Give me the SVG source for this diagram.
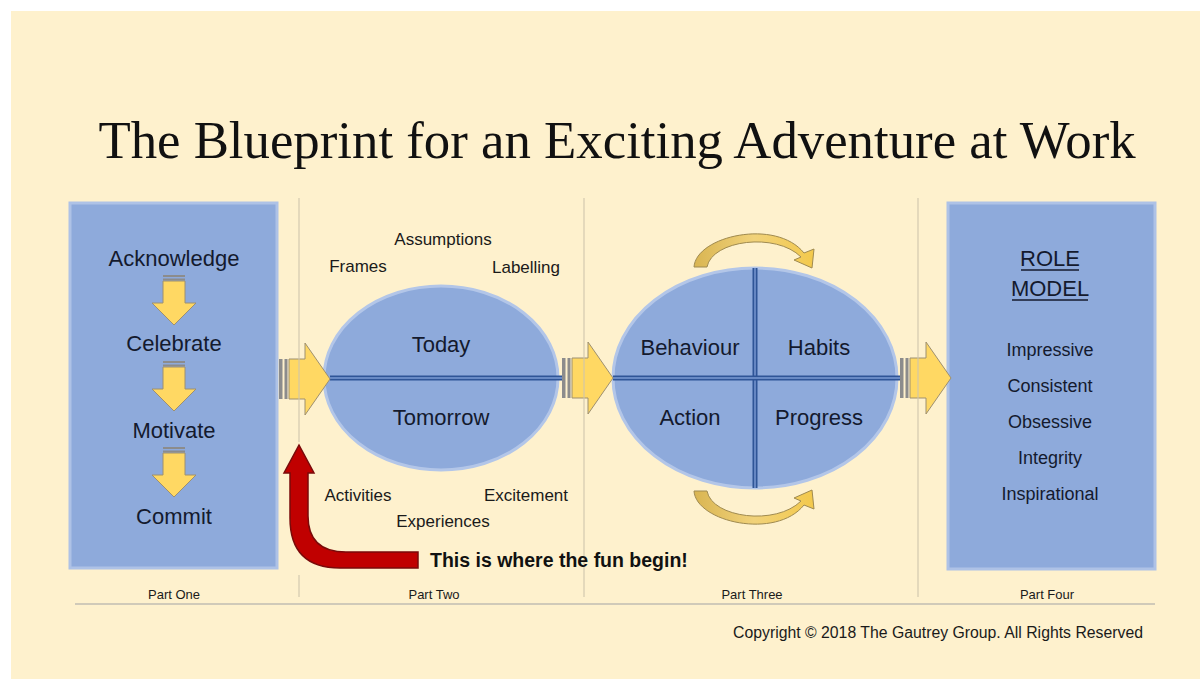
<svg xmlns="http://www.w3.org/2000/svg" width="1200" height="679" viewBox="0 0 1200 679">
  <defs>
    <style>
      .title { font-family: "Liberation Serif", "Times New Roman", serif; font-size: 52.8px; fill: #111; }
      .big { font-family: "Liberation Sans", Arial, sans-serif; font-size: 22px; fill: #141a2e; text-anchor: middle; }
      .mid { font-family: "Liberation Sans", Arial, sans-serif; font-size: 18px; fill: #141a2e; text-anchor: middle; }
      .cue { font-family: "Liberation Sans", Arial, sans-serif; font-size: 17px; fill: #1a1a1a; text-anchor: middle; }
      .part { font-family: "Liberation Sans", Arial, sans-serif; font-size: 13px; fill: #1a1a1a; text-anchor: middle; }
      .note { font-family: "Liberation Sans", Arial, sans-serif; font-size: 19.5px; font-weight: bold; fill: #111; }
      .copy { font-family: "Liberation Sans", Arial, sans-serif; font-size: 15.8px; fill: #1a1a1a; }
      .panel { fill: #8eaadb; stroke: #aec2e6; stroke-width: 3; }
      .oval { fill: #8eaadb; stroke: #b3c6e8; stroke-width: 3; }
      .sep { stroke: #cfc6ad; stroke-width: 1.3; fill: none; }
      .yarrow { fill: #ffd863; stroke: #9e9070; stroke-width: 1; }
      .bar { fill: #8c8c8c; }
      .dbl-out { stroke: #2f5597; stroke-width: 5; fill: none; }
      .dbl-in { stroke: #7d9cd4; stroke-width: 1.4; fill: none; }
      .loop { fill: url(#loopFill); stroke: #9f8a50; stroke-width: 1; }
    </style>
    <linearGradient id="loopFill" x1="0" y1="0" x2="1" y2="0">
      <stop offset="0" stop-color="#d9b552"/>
      <stop offset="0.5" stop-color="#f1d27a"/>
      <stop offset="1" stop-color="#f3c94c"/>
    </linearGradient>
    <!-- striped block arrow pointing down, origin at top of shaft centre -->
    <g id="downArrow">
      <rect x="-11" y="0" width="22" height="2" class="bar"/>
      <rect x="-11" y="3.5" width="22" height="2" class="bar"/>
      <path class="yarrow" d="M-11,6 L11,6 L11,28 L22,28 L0,50 L-22,28 L-11,28 Z"/>
    </g>
    <!-- striped block arrow pointing right, origin at left end / centre line -->
    <g id="rightArrow">
      <rect x="0" y="-20" width="3.5" height="40" class="bar"/>
      <rect x="5.5" y="-20" width="3" height="40" class="bar"/>
      <path class="yarrow" d="M10,-20 L26,-20 L26,-36 L51,0 L26,36 L26,20 L10,20 Z"/>
    </g>
  </defs>

  <!-- page -->
  <rect x="0" y="0" width="1200" height="679" fill="#ffffff"/>
  <rect x="11" y="11" width="1189" height="668" fill="#fef1cd"/>

  <text class="title" x="617" y="158" text-anchor="middle">The Blueprint for an Exciting Adventure at Work</text>

  <!-- Part One -->
  <g id="part-one">
    <rect class="panel" x="70" y="203" width="207" height="365"/>
    <text class="big" x="174" y="266">Acknowledge</text>
    <use href="#downArrow" x="174" y="275"/>
    <text class="big" x="174" y="351">Celebrate</text>
    <use href="#downArrow" x="174" y="361"/>
    <text class="big" x="174" y="438">Motivate</text>
    <use href="#downArrow" x="174" y="447"/>
    <text class="big" x="174" y="524">Commit</text>
  </g>

  <!-- Part Two -->
  <g id="part-two">
    <ellipse class="oval" cx="441" cy="378" rx="117" ry="92"/>
    <text class="big" x="441" y="352">Today</text>
    <text class="big" x="441" y="425">Tomorrow</text>
    <text class="cue" x="358" y="272">Frames</text>
    <text class="cue" x="443" y="245">Assumptions</text>
    <text class="cue" x="526" y="273">Labelling</text>
    <text class="cue" x="358" y="501">Activities</text>
    <text class="cue" x="526" y="501">Excitement</text>
    <text class="cue" x="443" y="527">Experiences</text>
  </g>

  <!-- Part Three -->
  <g id="part-three">
    <ellipse class="oval" cx="755" cy="378" rx="142" ry="110"/>
    <line class="dbl-out" x1="755" y1="268" x2="755" y2="488"/>
    <line class="dbl-in" x1="755" y1="268" x2="755" y2="488"/>
    <text class="big" x="690" y="355">Behaviour</text>
    <text class="big" x="819" y="355">Habits</text>
    <text class="big" x="690" y="425">Action</text>
    <text class="big" x="819" y="425">Progress</text>
    <!-- cycle arrows above and below -->
    <path class="loop" d="M694,267 C696,236 776,218 804,253 L814,249 L812,268 L794,260 L801,257 C776,232 712,240 707,267 Z"/>
    <path class="loop" d="M694,491 C696,522 776,540 804,505 L814,509 L812,490 L794,498 L801,501 C776,526 712,518 707,491 Z"/>
  </g>

  <!-- Part Four -->
  <g id="part-four">
    <rect class="panel" x="948" y="203" width="207" height="366"/>
    <text class="big" x="1050" y="266">ROLE</text>
    <line x1="1021" y1="270" x2="1079" y2="270" stroke="#141a2e" stroke-width="1.6"/>
    <text class="big" x="1050" y="296">MODEL</text>
    <line x1="1012" y1="300" x2="1088" y2="300" stroke="#141a2e" stroke-width="1.6"/>
    <text class="mid" x="1050" y="356">Impressive</text>
    <text class="mid" x="1050" y="392">Consistent</text>
    <text class="mid" x="1050" y="428">Obsessive</text>
    <text class="mid" x="1050" y="464">Integrity</text>
    <text class="mid" x="1050" y="500">Inspirational</text>
  </g>

  <!-- connectors -->
  <g id="connectors">
    <line class="dbl-out" x1="330" y1="378" x2="563" y2="378"/>
    <line class="dbl-in" x1="330" y1="378" x2="563" y2="378"/>
    <line class="dbl-out" x1="613" y1="378" x2="901" y2="378"/>
    <line class="dbl-in" x1="613" y1="378" x2="901" y2="378"/>
    <use href="#rightArrow" x="279" y="379"/>
    <use href="#rightArrow" x="562" y="378"/>
    <use href="#rightArrow" x="900" y="378"/>
    <!-- red pointer -->
    <path d="M299,445 L314,473 L308,473 L308,516 Q308,552 346,552 L418,552 L418,568 L340,568 Q290,568 290,518 L290,473 L284,473 Z" fill="#c00000" stroke="#7a0a0a" stroke-width="1.5"/>
  </g>

  <!-- column dividers and footer rule -->
  <g id="dividers" opacity="0.85">
    <line class="sep" x1="299" y1="198" x2="299" y2="442"/>
    <line class="sep" x1="299" y1="575" x2="299" y2="597"/>
    <line class="sep" x1="584" y1="198" x2="584" y2="597"/>
    <line class="sep" x1="918" y1="198" x2="918" y2="597"/>
    <line x1="75" y1="604" x2="1155" y2="604" stroke="#c9c4b6" stroke-width="2"/>
  </g>

  <text class="note" x="430" y="567">This is where the fun begin!</text>

  <text class="part" x="174" y="599">Part One</text>
  <text class="part" x="434" y="599">Part Two</text>
  <text class="part" x="752" y="599">Part Three</text>
  <text class="part" x="1047" y="599">Part Four</text>

  <text class="copy" x="733" y="638">Copyright © 2018 The Gautrey Group. All Rights Reserved</text>
</svg>
